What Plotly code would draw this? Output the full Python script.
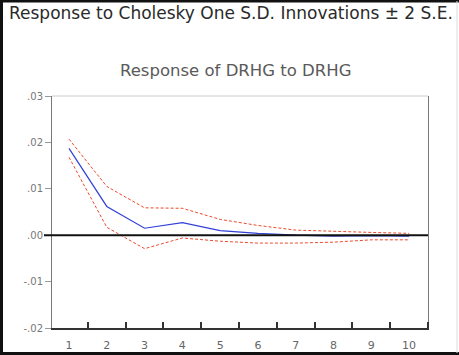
import plotly.graph_objects as go

periods = [1, 2, 3, 4, 5, 6, 7, 8, 9, 10]
response = [0.0187, 0.0062, 0.0015, 0.0027, 0.0010, 0.0004, 0.0000, -0.0002, -0.0001, -0.0002]
upper = [0.0207, 0.0105, 0.0059, 0.0058, 0.0034, 0.0021, 0.0011, 0.0008, 0.0006, 0.0004]
lower = [0.0168, 0.0017, -0.0029, -0.0006, -0.0013, -0.0017, -0.0017, -0.0015, -0.0010, -0.0010]

y_tickvals = [0.03, 0.02, 0.01, 0.0, -0.01, -0.02]
y_ticktext = [".03", ".02", ".01", ".00", "-.01", "-.02"]
x_ticktext = [str(p) for p in periods]

W, H = 459, 355
L, R, T, B = 52, 31, 96, 27
pw = W - L - R
ph = H - T - B

def px(x):
    return (x - L) / pw

def py(y):
    return (H - B - y) / ph

fig = go.Figure()
band_color = "#ec4a2c"
fig.add_trace(go.Scatter(x=periods, y=upper, mode="lines",
                         line=dict(color=band_color, width=1, dash="3px,2px"),
                         showlegend=False))
fig.add_trace(go.Scatter(x=periods, y=lower, mode="lines",
                         line=dict(color=band_color, width=1, dash="3px,2px"),
                         showlegend=False))
fig.add_trace(go.Scatter(x=periods, y=response, mode="lines",
                         line=dict(color="#3040d8", width=1.2),
                         showlegend=False))

fig.update_layout(
    width=W, height=H,
    margin=dict(l=L, r=R, t=T, b=B, autoexpand=False),
    paper_bgcolor="white", plot_bgcolor="white",
    font=dict(family="DejaVu Sans", color="#666666"),
    xaxis=dict(range=[0.55, 10.5], tickvals=periods, ticktext=x_ticktext,
               ticks="", showgrid=False, zeroline=False, automargin=False,
               showline=True, linecolor="#333333", linewidth=1.5,
               ticklabelstandoff=6,
               tickfont=dict(size=11, color="#666666"),
               minor=dict(ticks="inside", tick0=0.5, dtick=1, ticklen=6,
                          tickcolor="#333333", tickwidth=1.5, showgrid=False)),
    yaxis=dict(range=[-0.02, 0.03], tickvals=y_tickvals, ticktext=y_ticktext,
               ticks="outside", ticklen=6, tickcolor="#999999",
               showgrid=False, zeroline=False, automargin=False,
               showline=True, linecolor="#777777", linewidth=1, mirror=True,
               tickfont=dict(size=10, color="#777777")),
)

# zero reference line (extends slightly left of the axis)
fig.add_shape(type="line", xref="paper", yref="y", x0=px(44), x1=1, y0=0, y1=0,
              line=dict(color="#111111", width=2))
# light top frame line
fig.add_shape(type="line", xref="paper", yref="paper", x0=0, x1=1, y0=1, y1=1,
              line=dict(color="#cccccc", width=1))
# outer border: left, top, bottom edges
border = dict(color="#111111", width=3)
fig.add_shape(type="line", xref="paper", yref="paper",
              x0=px(1.5), x1=px(1.5), y0=py(353.5), y1=py(1), line=border)
fig.add_shape(type="line", xref="paper", yref="paper",
              x0=px(0), x1=px(W), y0=py(1), y1=py(1), line=border)
fig.add_shape(type="line", xref="paper", yref="paper",
              x0=px(0), x1=px(W), y0=py(353.5), y1=py(353.5), line=border)
# faint right edge
fig.add_shape(type="line", xref="paper", yref="paper",
              x0=px(457), x1=px(457), y0=py(353), y1=py(1),
              line=dict(color="#dddddd", width=1))

fig.add_annotation(text="Response to Cholesky One S.D. Innovations ± 2 S.E.",
                   xref="paper", yref="paper", x=px(7), y=py(13),
                   xanchor="left", yanchor="middle", showarrow=False,
                   font=dict(family="DejaVu Sans", size=17, color="#2a2a2a"))
fig.add_annotation(text="Response of DRHG to DRHG",
                   xref="paper", yref="paper", x=px(235), y=py(70),
                   xanchor="center", yanchor="middle", showarrow=False,
                   font=dict(family="DejaVu Sans", size=16.5, color="#5a5a5a"))

fig.write_html("out.html")
